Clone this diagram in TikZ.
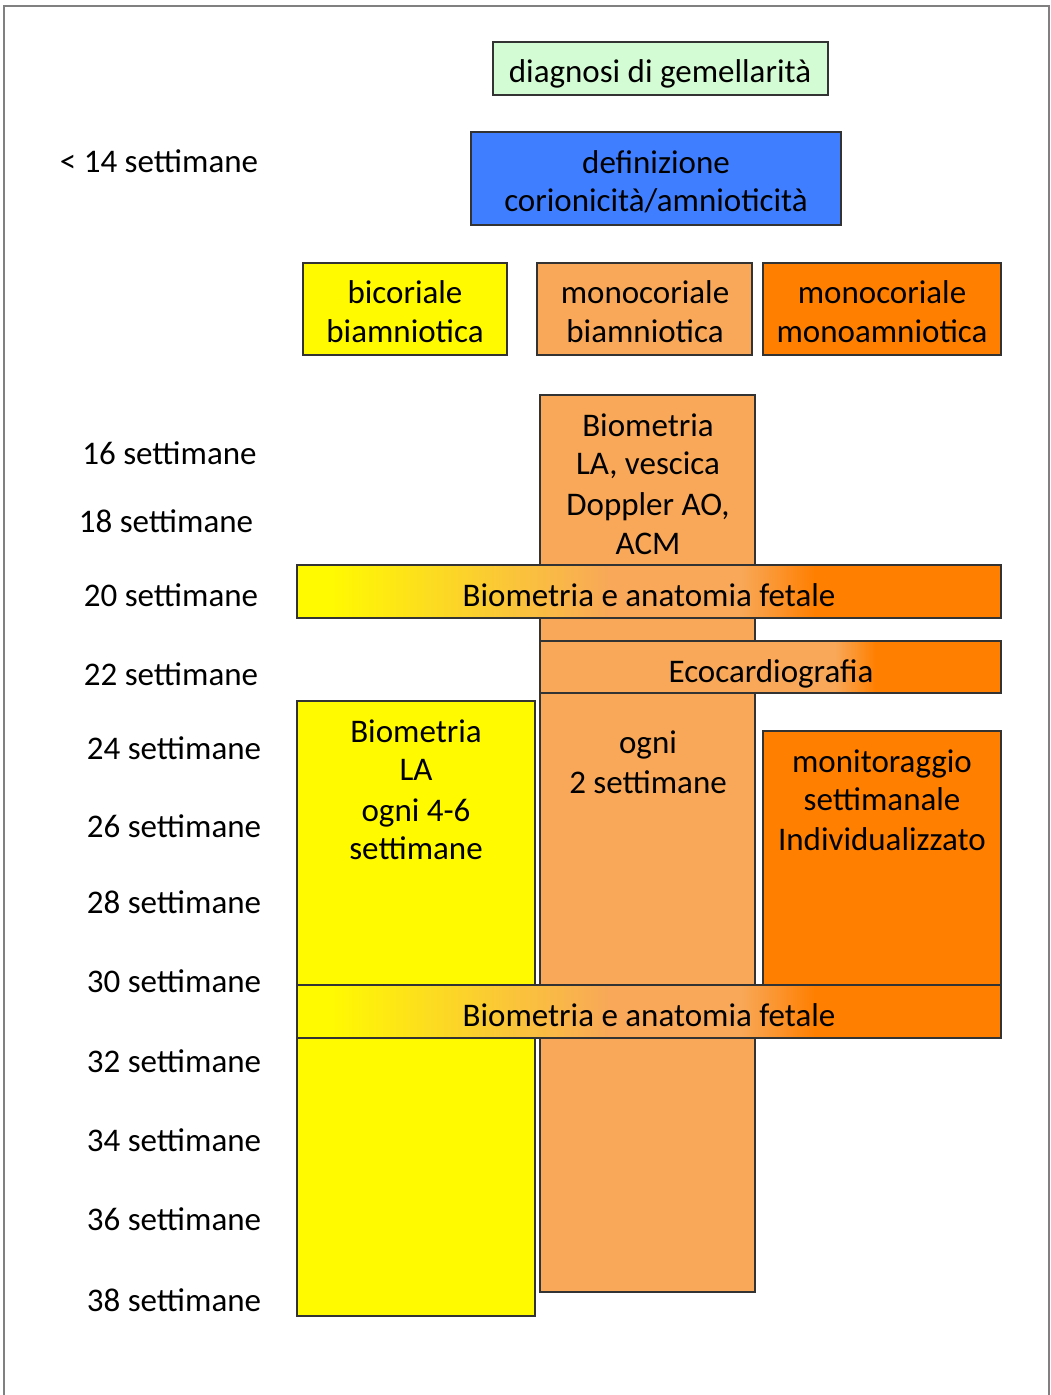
\documentclass[tikz,border=0pt]{standalone}
\usepackage{fontspec}
\setmainfont{Carlito}
\definecolor{lgreen}{HTML}{D4FCD4}
\definecolor{blu}{HTML}{3F7FFF}
\definecolor{yel}{HTML}{FFFA00}
\definecolor{lor}{HTML}{F8A858}
\definecolor{dor}{HTML}{FF7F00}
\definecolor{boxline}{HTML}{333333}
\definecolor{frame}{HTML}{808080}
\pgfdeclarehorizontalshading{barA}{100bp}{color(0bp)=(yel); color(27.3bp)=(yel); color(47.2bp)=(lor); color(56.5bp)=(lor); color(61.8bp)=(dor); color(100bp)=(dor)}
\pgfdeclarehorizontalshading{barB}{100bp}{color(0bp)=(lor); color(57bp)=(lor); color(61.4bp)=(dor); color(100bp)=(dor)}
\begin{document}
\begin{tikzpicture}[x=1pt,y=-1pt,
  every node/.style={font=\fontsize{33}{39}\selectfont, text=black},
  box/.style={draw=boxline, line width=1.3pt, inner sep=0pt, outer sep=0pt, anchor=north west},
  ln/.style={inner sep=0pt, text height=28pt, text depth=6pt, anchor=center}]
\useasboundingbox (0,0) rectangle (1051,1395);
\draw[frame, line width=2.5pt] (4,1400) -- (4,6) -- (1049,6) -- (1049,1400);

% week labels
\node[ln] (w14) at (159,161) {< 14 settimane};
\node[ln] (w16) at (169.5,453) {16 settimane};
\node[ln] (w18) at (166,521) {18 settimane};
\node[ln] (w20) at (171,595) {20 settimane};
\node[ln] (w22) at (171,674) {22 settimane};
\node[ln] (w24) at (174,748) {24 settimane};
\node[ln] (w26) at (174,826) {26 settimane};
\node[ln] (w28) at (174,902) {28 settimane};
\node[ln] (w30) at (174,981) {30 settimane};
\node[ln] (w32) at (174,1061) {32 settimane};
\node[ln] (w34) at (174,1140) {34 settimane};
\node[ln] (w36) at (174,1219) {36 settimane};
\node[ln] (w38) at (174,1300) {38 settimane};

% top boxes
\node[box, fill=lgreen, minimum width=335pt, minimum height=53pt] (diag) at (493,42) {};
\node[ln] (diagt) at (660,71) {diagnosi di gemellarità};
\node[box, fill=blu, minimum width=370pt, minimum height=93pt] (def) at (471,132) {};
\node[ln] (def1) at (656,162) {definizione};
\node[ln] (def2) at (656,200) {corionicità/amnioticità};

\node[box, fill=yel, minimum width=204pt, minimum height=92pt] (bic) at (303,263) {};
\node[ln] (bic1) at (405,292) {bicoriale};
\node[ln] (bic2) at (405,331) {biamniotica};
\node[box, fill=lor, minimum width=215pt, minimum height=92pt] (mbi) at (537,263) {};
\node[ln] (mbi1) at (645,292) {monocoriale};
\node[ln] (mbi2) at (645,331) {biamniotica};
\node[box, fill=dor, minimum width=238pt, minimum height=92pt] (mmo) at (763,263) {};
\node[ln] (mmo1) at (882,292) {monocoriale};
\node[ln] (mmo2) at (882,331) {monoamniotica};

% monochorionic column
\node[box, fill=lor, minimum width=215pt, minimum height=897pt] (mcol) at (540,395) {};
\node[ln] (mc1) at (648,425) {Biometria};
\node[ln] (mc2) at (648,463) {LA, vescica};
\node[ln] (mc3) at (648,504) {Doppler AO,};
\node[ln] (mc4) at (648,543) {ACM};
\node[ln] (mc5) at (648,742) {ogni};
\node[ln] (mc6) at (648,782) {2 settimane};

% bar 1
\node[box, shading=barA, minimum width=704pt, minimum height=53pt] (bar1) at (297,565) {};
\node[ln] (bar1t) at (649,595) {Biometria e anatomia fetale};
% eco
\node[box, shading=barB, minimum width=461pt, minimum height=52pt] (eco) at (540,641) {};
\node[ln] (ecot) at (771,671) {Ecocardiografia};

% yellow column
\node[box, fill=yel, minimum width=238pt, minimum height=615pt] (ycol) at (297,701) {};
\node[ln] (y1) at (416,731) {Biometria};
\node[ln] (y2) at (416,769) {LA};
\node[ln] (y3) at (416,810) {ogni 4-6};
\node[ln] (y4) at (416,848) {settimane};

% orange column
\node[box, fill=dor, minimum width=238pt, minimum height=254pt] (ocol) at (763,731) {};
\node[ln] (o1) at (882,761) {monitoraggio};
\node[ln] (o2) at (882,799) {settimanale};
\node[ln] (o3) at (882,839) {Individualizzato};

% bar 2
\node[box, shading=barA, minimum width=704pt, minimum height=53pt] (bar2) at (297,985) {};
\node[ln] (bar2t) at (649,1015) {Biometria e anatomia fetale};
\end{tikzpicture}
\end{document}
